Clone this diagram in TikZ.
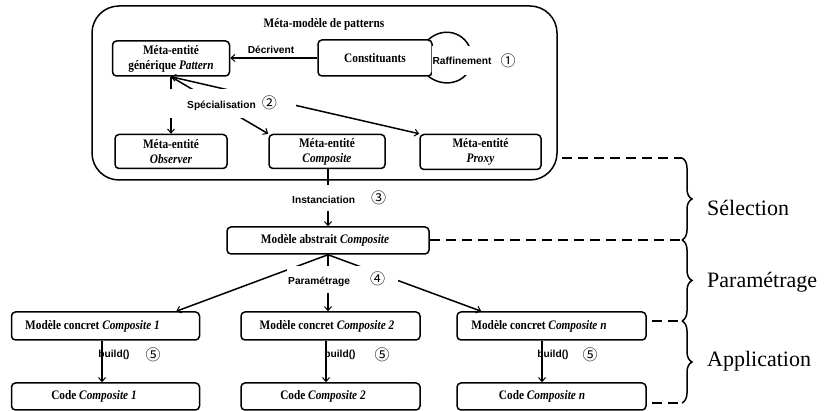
\documentclass[tikz,border=0pt]{standalone}
\usepackage{fontspec}
\setmainfont{Liberation Serif}
\newfontfamily\condserif[FakeStretch=0.87]{Liberation Serif}
\newfontfamily\lsans{Liberation Sans}
\newfontfamily\cjk{Noto Sans CJK SC}
\newcommand{\circnum}[1]{{\cjk\mdseries\fontsize{15}{17}\selectfont #1}}
\usetikzlibrary{arrows.meta,decorations.pathreplacing}
\tikzset{
  boxfont/.style={font=\condserif\bfseries\fontsize{13}{15}\selectfont},
  box/.style={draw, line width=1.5pt, rounded corners=4pt, inner sep=0pt, align=center, boxfont},
  lab/.style={font=\lsans\bfseries\fontsize{10.2}{12}\selectfont, inner sep=0pt},
  num/.style={font=\cjk\mdseries\fontsize{15}{17}\selectfont, inner sep=0pt},
  conn/.style={line width=1.5pt},
  tipb/.tip={Straight Barb[length=4pt,width=7pt,line width=1pt]},
  arr/.style={line width=1.5pt, -tipb},
  dash line/.style={line width=1.5pt, dash pattern=on 10pt off 6pt},
  bracestyle/.style={line width=1.5pt, decorate, decoration={brace, amplitude=10pt}},
  side/.style={font=\fontsize{22}{26}\selectfont, anchor=base west, inner sep=0pt}
}
\begin{document}
\begin{tikzpicture}[x=1pt, y=-1pt]
\useasboundingbox (0,0) rectangle (825,411);

% outer meta-model box
\node[draw, line width=1.5pt, rounded corners=27pt, minimum width=465pt, minimum height=174pt, inner sep=0pt] (meta) at (324.5,93) {};
\node[boxfont, inner sep=0pt] (title) at (324,24) {Méta-modèle de patterns};

% meta boxes
\node[box, minimum width=117pt, minimum height=35pt] (pat) at (171,58.5) {Méta-entité\\générique \textit{Pattern}};
\node[box, minimum width=114pt, minimum height=36pt] (const) at (375,58) {Constituants};
\node[box, minimum width=112pt, minimum height=34pt] (obs) at (171,151.5) {Méta-entité\\\textit{Observer}};
\node[box, minimum width=116pt, minimum height=34pt] (comp) at (327,151.5) {Méta-entité\\\textit{Composite}};
\node[box, minimum width=121pt, minimum height=35pt] (prox) at (480.5,152) {Méta-entité\\\textit{Proxy}};

% Décrivent
\draw[arr] (const.west) -- (pat.east |- const.west);
\node[lab] (decr) at (271,50) {Décrivent};

% Raffinement loop
\coordinate (rf1) at (428,40);
\coordinate (rf2) at (428,76);
\draw[conn] (rf1) .. controls (445,24) and (471,34) .. (472,58) .. controls (472,82) and (445,90) .. (rf2);
\node[lab, fill=white, minimum height=29pt, inner xsep=1pt] (raff) at (462,60.5) {Raffinement};
\node[num] (n1) at (508,61) {①};

% Spécialisation
\draw[arr] (pat.south) -- (obs.north);
\draw[arr] (pat.south) -- (comp.north west);
\draw[line width=1.5pt, tipb-tipb] (pat.south) -- (prox.north west);
\node[lab, fill=white, anchor=west, minimum height=29pt] (spec) at (150,103.5) {\hspace*{37pt}Spécialisation\hspace{6pt}\circnum{②}\hspace*{19pt}};

% Instanciation
\node[box, minimum width=202pt, minimum height=27pt] (abs) at (328,240.5) {Modèle abstrait \textit{Composite}\hspace*{6pt}};
\draw[arr] ([xshift=1pt]comp.south) -- ([xshift=1pt]comp.south |- abs.north);
\node[lab, fill=white, anchor=west, minimum height=26pt] (inst) at (292,198) {Instanciation\hspace{16pt}\circnum{③}};

% concrete and code boxes
\node[box, minimum width=188pt, minimum height=28pt] (c1) at (105.5,326) {Modèle concret \textit{Composite 1}\hspace*{26pt}};
\node[box, minimum width=179pt, minimum height=28pt] (c2) at (330.5,326) {Modèle concret \textit{Composite 2}\hspace*{7pt}};
\node[box, minimum width=189pt, minimum height=28pt] (cn) at (551.5,326) {Modèle concret \textit{Composite n}\hspace*{25pt}};
\node[box, minimum width=188pt, minimum height=27pt] (k1) at (105.5,396.5) {Code \textit{Composite 1}\hspace*{23pt}};
\node[box, minimum width=179pt, minimum height=27pt] (k2) at (330.5,396.5) {Code \textit{Composite 2}\hspace*{15pt}};
\node[box, minimum width=189pt, minimum height=27pt] (kn) at (551.5,396.5) {Code \textit{Composite n}\hspace*{19pt}};

% Paramétrage
\draw[arr] (abs.south) -- ([xshift=-24pt]c1.north east);
\draw[arr] (abs.south) -- (abs.south |- c2.north);
\draw[arr] (abs.south) -- ([xshift=25pt]cn.north west);
\node[lab, fill=white, anchor=west, minimum height=27pt, inner xsep=1pt] (param) at (287,279.5) {Paramétrage\hspace{20pt}\circnum{④}\hspace*{12pt}};

% build()
\node[lab] (b1) at (114,355) {build()};
\node[num] (n5a) at (153,355) {⑤};
\node[lab] (b2) at (340,355) {build()};
\node[num] (n5b) at (382,355) {⑤};
\node[lab] (bn) at (553,355) {build()};
\node[num] (n5c) at (590,355) {⑤};
\draw[arr] ([xshift=-3.5pt]c1.south) -- ([xshift=-3.5pt]c1.south |- k1.north);
\draw[arr] ([xshift=-4.5pt]c2.south) -- ([xshift=-4.5pt]c2.south |- k2.north);
\draw[arr] ([xshift=-9.5pt]cn.south) -- ([xshift=-9.5pt]cn.south |- kn.north);

% dashed lines and braces
\coordinate (s1) at (682,158);
\coordinate (s2) at (682,240);
\coordinate (s3) at (682,321);
\coordinate (s4) at (682,403);
\coordinate (e1) at (562,158);
\coordinate (e3) at (652,321);
\coordinate (e4) at (652,403);
\draw[dash line] (e1) -- (s1);
\draw[dash line] (abs.east |- s2) -- (s2);
\draw[dash line] (e3) -- (s3);
\draw[dash line] (e4) -- (s4);
\draw[bracestyle] (s1) -- (s2);
\draw[bracestyle] (s2) -- (s3);
\draw[bracestyle] (s3) -- (s4);
\node[side] (sel) at (707,215.5) {Sélection};
\node[side] (par) at (707,288) {Paramétrage};
\node[side] (app) at (707,367) {Application};
\end{tikzpicture}
\end{document}
